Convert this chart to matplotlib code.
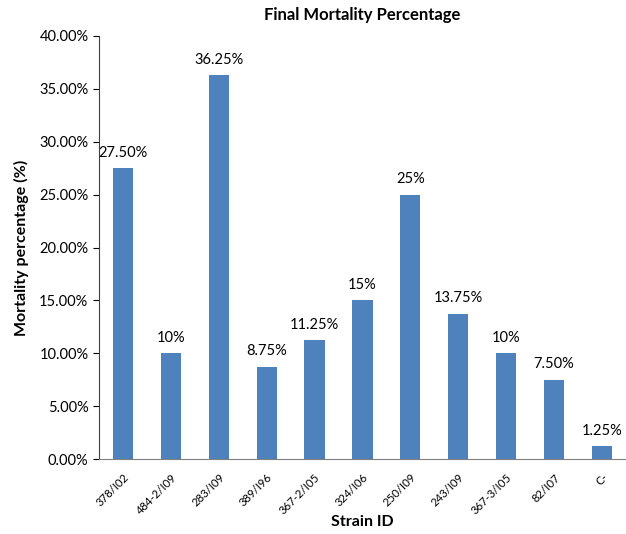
import matplotlib.pyplot as plt
from matplotlib.ticker import FuncFormatter

strains = ['378/I02', '484-2/I09', '283/I09', '389/I96', '367-2/I05', '324/I06',
           '250/I09', '243/I09', '367-3/I05', '82/I07', 'C-']
mortality = [27.5, 10, 36.25, 8.75, 11.25, 15, 25, 13.75, 10, 7.5, 1.25]
value_labels = ['27.50%', '10%', '36.25%', '8.75%', '11.25%', '15%',
                '25%', '13.75%', '10%', '7.50%', '1.25%']

plt.rcParams['font.family'] = ['Lato', 'DejaVu Sans']

fig = plt.figure(figsize=(6.26, 5.34), dpi=100)
ax = fig.add_axes([0.158, 0.140, 0.842, 0.793])

x = range(len(strains))
bars = ax.bar(x, mortality, width=0.42, color='#4F81BD')
for b, v, lab in zip(bars, mortality, value_labels):
    ax.text(b.get_x() + b.get_width() / 2, v + 0.8, lab, ha='center', va='bottom', fontsize=10.5)

ax.set_xlim(-0.5, 10.5)
ax.set_ylim(0, 40)
ax.set_yticks(range(0, 41, 5))
ax.yaxis.set_major_formatter(FuncFormatter(lambda v, p: '%.2f%%' % v))
ax.set_xticks(list(x))
ax.set_xticklabels(strains, rotation=45, ha='right', rotation_mode='anchor', fontsize=8.2)
ax.tick_params(axis='x', length=0, pad=9)
ax.tick_params(axis='y', labelsize=10.5, length=4, direction='out')

for s in ['top', 'right']:
    ax.spines[s].set_visible(False)
ax.spines['bottom'].set_color('#808080')
ax.spines['left'].set_color('#404040')

ax.set_title('Final Mortality Percentage', fontsize=12, fontweight='bold', pad=8, y=1.01)
ax.set_xlabel('Strain ID', fontsize=11.5, fontweight='bold', va='center')
ax.xaxis.set_label_coords(0.5, -0.149)
ax.set_ylabel('Mortality percentage (%)', fontsize=11.5, fontweight='bold', va='center')
ax.yaxis.set_label_coords(-0.146, 0.5)

plt.savefig('out.png', dpi=100)
